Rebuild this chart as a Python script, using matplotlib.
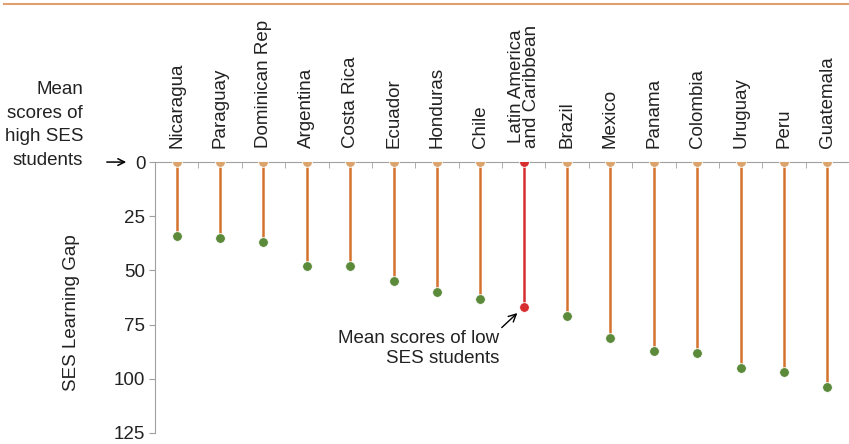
import matplotlib
matplotlib.use("Agg")
import matplotlib.pyplot as plt
import numpy as np

countries = ["Nicaragua", "Paraguay", "Dominican Rep", "Argentina", "Costa Rica",
             "Ecuador", "Honduras", "Chile", "Latin America\nand Caribbean", "Brazil",
             "Mexico", "Panama", "Colombia", "Uruguay", "Peru", "Guatemala"]
gap = [34, 35, 37, 48, 48, 55, 60, 63, 67, 71, 81, 87, 88, 95, 97, 104]
highlight = "Latin America\nand Caribbean"
yticks = [0, 25, 50, 75, 100, 125]

STEM = "#d4732e"
TOP = "#dba46c"
LOW = "#5a8a3a"
RED = "#d62e2e"
TXT = "#222222"
GREY = "#a0a0a0"
FS = 13.5

plt.rcParams["font.family"] = ["Liberation Sans Narrow", "Liberation Sans", "DejaVu Sans"]

fig = plt.figure(figsize=(8.49, 4.44), dpi=100)
ax = fig.add_axes([0.1826, 0.0248, 0.8174, 0.6103])

x = np.arange(len(countries))
for xi, name, g in zip(x, countries, gap):
    red = name == highlight
    ax.plot([xi, xi], [0, g], color=RED if red else STEM, lw=1.8, zorder=2,
            solid_capstyle="butt")
    ax.plot(xi, 0, "o", ms=7, color=RED if red else TOP, mec="white", mew=0.6, zorder=3)
    ax.plot(xi, g, "o", ms=7, color=RED if red else LOW, mec="white", mew=0.6, zorder=3)

ax.set_xlim(-0.5, len(countries) - 0.5)
ax.set_ylim(125, 0)
ax.set_yticks(yticks)
ax.tick_params(axis="y", length=4, color=GREY, labelsize=FS, labelcolor=TXT, pad=3)

ax.xaxis.tick_top()
ax.set_xticks(x)
ax.set_xticklabels(countries, rotation=90, fontsize=FS, color=TXT, linespacing=0.85)
ax.tick_params(axis="x", which="major", length=0, pad=10)
ax.set_xticks(x[:-1] + 0.5, minor=True)
ax.tick_params(axis="x", which="minor", length=4, direction="in", color=GREY, top=True)

for s in ["right", "bottom"]:
    ax.spines[s].set_visible(False)
ax.spines["left"].set_color(GREY)
ax.spines["top"].set_color(GREY)

ax.set_ylabel("SES Learning Gap", fontsize=FS, color=TXT)
ax.yaxis.set_label_coords(-0.108, 0.446)

# orange rule across the top
fig.add_artist(plt.Line2D([0.005, 1.0], [0.991, 0.991], color="#e0a070", lw=1.5))

fig.text(0.098, 0.719, "Mean\nscores of\nhigh SES\nstudents", ha="right", va="center",
         fontsize=FS, color=TXT, linespacing=1.5, multialignment="right")
fig.add_artist(matplotlib.patches.FancyArrowPatch(
    (104 / 849, 0.635), (129 / 849, 0.635), transform=fig.transFigure,
    arrowstyle="->", mutation_scale=12, color="black", lw=1.1))

ax.annotate("Mean scores of low\nSES students", xy=(7.9, 68.8), xytext=(7.43, 86),
            ha="right", va="center", fontsize=FS, color=TXT, linespacing=1.2,
            multialignment="right",
            arrowprops=dict(arrowstyle="->", color="black", lw=1, shrinkA=0, shrinkB=2,
                            relpos=(1, 1)))

fig.savefig("out.png", dpi=100)
